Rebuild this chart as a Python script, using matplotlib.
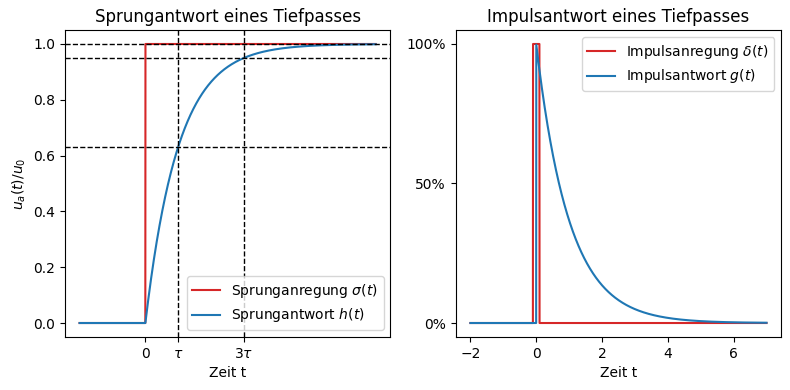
import numpy as np
import matplotlib.pyplot as plt
from matplotlib.ticker import PercentFormatter

# Tiefpass mit Zeitkonstante tau
tau = 1.0
t_start, t_end = -2.0, 7.0
impulse_width = 0.2
levels = [1.0, 0.95, 0.63]        # Hilfslinien
marks = [tau, 3 * tau]             # tau und 3 tau
xtick_pos = [0, tau, 3 * tau]
xtick_labels = ["0", r"$\tau$", r"$3\tau$"]

t = np.linspace(t_start, t_end, 2001)
sigma = np.where(t >= 0, 1.0, 0.0)
h = np.where(t >= 0, 1 - np.exp(-t / tau), 0.0)
delta = np.where(np.abs(t) <= impulse_width / 2, 1.0, 0.0)
g = np.where(t >= 0, np.exp(-t / tau), 0.0)

fig, (ax1, ax2) = plt.subplots(1, 2, figsize=(7.9, 3.9), dpi=100)

ax1.plot(t, sigma, color="tab:red", label=r"Sprunganregung $\sigma(t)$")
ax1.plot(t, h, color="tab:blue", label=r"Sprungantwort $h(t)$")
for y in levels:
    ax1.axhline(y, color="k", ls="--", lw=1)
for x in marks:
    ax1.axvline(x, color="k", ls="--", lw=1)
ax1.set_xticks(xtick_pos)
ax1.set_xticklabels(xtick_labels)
ax1.set_xlabel("Zeit t")
ax1.set_ylabel(r"$u_a(t)/u_0$")
ax1.set_title("Sprungantwort eines Tiefpasses")
ax1.legend(loc="lower right")

ax2.plot(t, delta, color="tab:red", label=r"Impulsanregung $\delta(t)$")
ax2.plot(t, g, color="tab:blue", label=r"Impulsantwort $g(t)$")
ax2.set_yticks([0, 0.5, 1.0])
ax2.yaxis.set_major_formatter(PercentFormatter(1.0, decimals=0))
ax2.set_xlabel("Zeit t")
ax2.set_title("Impulsantwort eines Tiefpasses")
ax2.legend(loc="upper right")

fig.subplots_adjust(left=0.082, right=0.989, top=0.923, bottom=0.136, wspace=0.2)
fig.savefig("out.png")
